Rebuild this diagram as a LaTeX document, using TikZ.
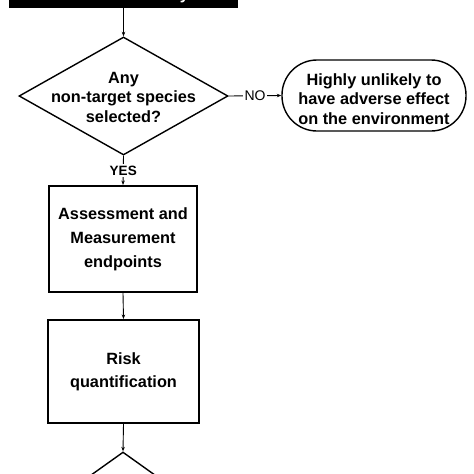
\documentclass[tikz,border=0pt]{standalone}
\usepackage{fontspec}
\setmainfont{Liberation Sans}
\usetikzlibrary{shapes.geometric,arrows.meta}
\begin{document}
\begin{tikzpicture}[x=1pt,y=-1pt,
  boxtxt/.style={align=center,inner sep=0pt,font=\fontsize{16.3}{24}\selectfont\bfseries},
  dtxt/.style={align=center,inner sep=0pt,font=\fontsize{16.3}{19.5}\selectfont\bfseries},
  stepbox/.style={draw,line width=2pt,inner sep=0pt},
  decision/.style={diamond,draw,line width=1.4pt,inner sep=0pt},
  terminal/.style={draw,line width=1.4pt,rounded corners=35pt,inner sep=0pt},
  arrow/.style={line width=0.9pt,-{Stealth[length=4.5pt,width=3.5pt]}},
  lbl/.style={fill=white,inner sep=1.5pt}]
\useasboundingbox (0,0) rectangle (474,474);
\clip (0,0) rectangle (474,474);
% top black box (cut off)
\node[fill=black,minimum width=229pt,minimum height=40pt,inner sep=0pt,anchor=south] (top) at (123.5,8) {};
\node[text=white,anchor=base,font=\fontsize{16.3}{19.5}\selectfont\bfseries] (toptxt) at (127,-1) {Selection of key};
% decision
\node[decision,minimum width=209pt,minimum height=118pt] (d1) at (123.5,96) {};
\node[dtxt] (d1t) at (123.5,97) {Any\\non-target species\\selected?};
% terminal
\node[terminal,minimum width=184pt,minimum height=71pt] (st) at (374,95.5) {};
\node[dtxt] (stt) at (374,99) {Highly unlikely to\\have adverse effect\\on the environment};
% boxes
\node[stepbox,minimum width=148pt,minimum height=106pt] (b1) at (123,239) {};
\node[boxtxt] (b1t) at (123,239) {Assessment and\\Measurement\\endpoints};
\node[stepbox,minimum width=151pt,minimum height=103pt] (b2) at (123.5,371.5) {};
\node[boxtxt,font=\fontsize{16.3}{23}\selectfont\bfseries] (b2t) at (123.5,371.5) {Risk\\quantification};
% bottom decision (cut off)
\node[decision,minimum width=168pt,minimum height=120pt] (d2) at (123,512) {};
% connectors
\draw[arrow] (top.south) -- (d1.north);
\draw[arrow] (d1.east) -- node[lbl,font=\fontsize{14}{14}\selectfont] (no) {NO} (st.west);
\draw[arrow] (d1.south) -- node[lbl,font=\fontsize{13.5}{14}\selectfont\bfseries] (yes) {YES} (b1.north);
\draw[arrow] (b1.south) -- (b2.north);
\draw[arrow] (b2.south) -- (d2.north);
\end{tikzpicture}
\end{document}
